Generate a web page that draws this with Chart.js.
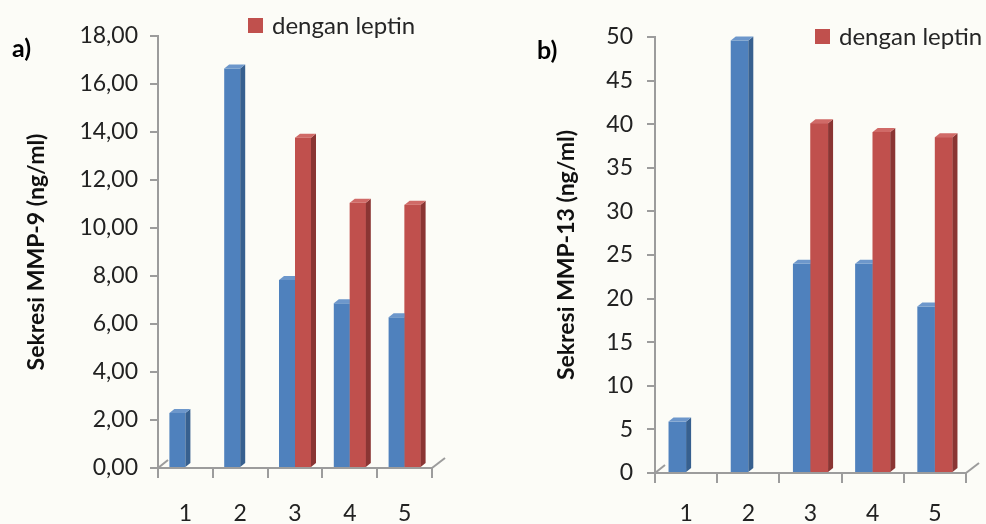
<!DOCTYPE html>
<html><head><meta charset="utf-8">
<script src="https://cdn.jsdelivr.net/npm/chart.js@4/dist/chart.umd.min.js"></script>
<style>
html,body{margin:0;padding:0;background:#fcfcf7;}
#wrap{position:relative;width:986px;height:524px;overflow:hidden;font-family:Lato,'Open Sans',sans-serif;}
.pane{position:absolute;top:0;width:493px;height:524px;}
.lbl{position:absolute;font-weight:bold;font-size:25px;color:#000;line-height:1;}
.leg{position:absolute;font-size:24px;color:#262626;display:flex;align-items:center;white-space:nowrap;line-height:1;}
.leg i{display:inline-block;width:15px;height:15px;background:#C0504D;margin-right:9px;}
</style></head>
<body><div id="wrap">
<div class="pane" style="left:0"><canvas id="ca"></canvas></div>
<div class="pane" style="left:493px"><canvas id="cb"></canvas></div>
<div class="lbl" style="left:12px;top:35px">a)</div>
<div class="lbl" style="left:537px;top:37px">b)</div>
<div class="leg" style="left:248px;top:13px"><i></i>dengan leptin</div>
<div class="leg" style="left:815px;top:24px"><i></i>dengan leptin</div>
</div>
<script>
const categories = ['1','2','3','4','5'];
const seriesNames = ['tanpa leptin','dengan leptin'];
const mmp9Tanpa  = [2.29, 16.65, 7.83, 6.86, 6.28];
const mmp9Leptin = [null, null, 13.76, 11.05, 10.97];
const mmp13Tanpa  = [5.9, 49.6, 24.0, 24.0, 19.1];
const mmp13Leptin = [null, null, 40.1, 39.1, 38.5];
const mmp9Ticks  = [0,2,4,6,8,10,12,14,16,18];
const mmp13Ticks = [0,5,10,15,20,25,30,35,40,45,50];

const FONT = "Lato, 'Open Sans', sans-serif";
const AXIS = '#9c9c9c';
const COLS = [
  {front:'#4F81BD', side:'#37608f', top:'#6d97cb'},
  {front:'#C0504D', side:'#8a3533', top:'#d06a67'}
];

const bar3d = {
  id:'bar3d',
  afterDatasetsDraw(chart){
    const ctx = chart.ctx, d = 5, dy = 4;
    chart.data.datasets.forEach((ds, di) => {
      const meta = chart.getDatasetMeta(di);
      meta.data.forEach((el, i) => {
        if (ds.data[i] == null) return;
        const {x, y, base, width} = el.getProps(['x','y','base','width'], true);
        const l = x - width/2, r = x + width/2, c = COLS[di];
        ctx.save();
        if (di > 0) { ctx.fillStyle = c.front; ctx.fillRect(l, y, width, base - y); }
        ctx.fillStyle = c.side;
        ctx.beginPath(); ctx.moveTo(r, y); ctx.lineTo(r + d, y - dy); ctx.lineTo(r + d, base - dy); ctx.lineTo(r, base); ctx.closePath(); ctx.fill();
        ctx.fillStyle = c.top;
        ctx.beginPath(); ctx.moveTo(l, y); ctx.lineTo(l + d, y - dy); ctx.lineTo(r + d, y - dy); ctx.lineTo(r, y); ctx.closePath(); ctx.fill();
        ctx.restore();
      });
    });
  },
  afterDraw(chart){
    const {left, right, bottom} = chart.chartArea, ctx = chart.ctx;
    ctx.save();
    ctx.strokeStyle = AXIS; ctx.lineWidth = 2;
    ctx.beginPath(); ctx.moveTo(left, bottom); ctx.lineTo(left + 10, bottom - 8); ctx.stroke();
    ctx.beginPath(); ctx.moveTo(right, bottom); ctx.lineTo(right + 13, bottom - 10); ctx.stroke();
    ctx.restore();
  }
};

function makeChart(id, tanpa, leptin, tickVals, fmt, title, geo){
  return new Chart(document.getElementById(id), {
    type:'bar',
    data:{
      labels: categories,
      datasets:[
        {label: seriesNames[0], data: tanpa, backgroundColor: COLS[0].front, barPercentage:1, categoryPercentage: geo.cat},
        {label: seriesNames[1], data: leptin, backgroundColor: COLS[1].front, barPercentage:1, categoryPercentage: geo.cat}
      ]
    },
    options:{
      responsive:true, maintainAspectRatio:false, animation:false,
      layout:{padding:{left:0, top:geo.top, right:geo.right, bottom:0}},
      plugins:{legend:{display:false}, tooltip:{enabled:false}},
      scales:{
        x:{
          grid:{display:true, drawOnChartArea:false, offset:true, tickLength:10, color:AXIS, lineWidth:2},
          border:{display:true, color:AXIS, width:2},
          ticks:{color:'#222', font:{family:FONT, size:23}, padding:geo.xp},
          afterFit(s){ s.height = geo.xh; }
        },
        y:{
          min: tickVals[0], max: tickVals[tickVals.length-1],
          afterBuildTicks(s){ s.ticks = tickVals.map(v => ({value:v})); },
          grid:{display:true, drawOnChartArea:false, tickLength:8, color:AXIS, lineWidth:2},
          border:{display:true, color:AXIS, width:2},
          ticks:{color:'#222', font:{family:FONT, size:23}, padding:geo.tp, callback: fmt},
          title:{display:true, text:title, color:'#111', font:{family:FONT, size:23, weight:'bold'}, padding:{top:geo.tt, bottom:0}},
          afterFit(s){ s.width = geo.yw; }
        }
      }
    },
    plugins:[bar3d]
  });
}

makeChart('ca', mmp9Tanpa, mmp9Leptin, mmp9Ticks, v => Number(v).toFixed(2).replace('.', ','),
  'Sekresi MMP-9 (ng/ml)', {cat:0.584, top:36, right:61, xh:56, yw:158, tp:12, tt:23, xp:22});
makeChart('cb', mmp13Tanpa, mmp13Leptin, mmp13Ticks, v => String(v),
  'Sekresi MMP-13 (ng/ml)', {cat:0.565, top:37, right:20, xh:51, yw:162, tp:14, tt:60, xp:17});
</script>
</body></html>
